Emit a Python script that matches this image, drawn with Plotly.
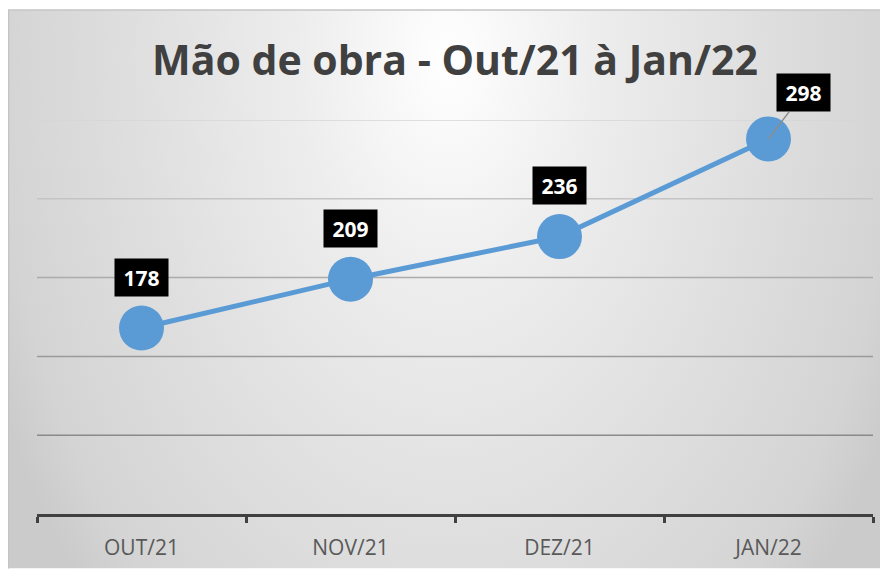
import base64
import plotly.graph_objects as go

categories = ["OUT/21", "NOV/21", "DEZ/21", "JAN/22"]
values = [178, 209, 236, 298]
title_text = "Mão de obra - Out/21 à Jan/22"
y_min, y_max, y_step = 60, 310, 50
grid_colors = ["#d6d6d6", "#c4c4c4", "#ababab", "#9a9a9a", "#8a8a8a"]  # top to bottom

# page body has an 8px margin, so the figure is placed at (8, 8)
W, H = 880, 565
L, R, T, B = 29, 15, 112, 55
pw = W - L - R
ph = H - T - B

def px_x(p):
    return (p - L) / pw

def px_y(p):
    return (H - B - p) / ph

svg = """<svg xmlns='http://www.w3.org/2000/svg' width='880' height='564' viewBox='0 0 880 564' preserveAspectRatio='none'>
<defs><radialGradient id='g' gradientUnits='userSpaceOnUse' cx='0' cy='0' r='1'
 gradientTransform='translate(440 50) scale(500 780)'>
<stop offset='0' stop-color='#ffffff'/><stop offset='0.3' stop-color='#ededed'/>
<stop offset='0.6' stop-color='#e0e0e0'/><stop offset='0.9' stop-color='#d4d4d4'/>
<stop offset='1' stop-color='#cbcbcb'/></radialGradient></defs>
<rect x='0' y='0' width='880' height='564' fill='url(#g)'/></svg>"""
src = "data:image/svg+xml;base64," + base64.b64encode(svg.encode()).decode()

fig = go.Figure()
fig.add_trace(go.Scatter(
    x=categories, y=values, mode="lines+markers",
    line=dict(color="#5B9BD5", width=5),
    marker=dict(size=45, color="#5B9BD5"),
    cliponaxis=False, hoverinfo="skip",
))

annotations = []
for i, (c, v) in enumerate(zip(categories, values)):
    common = dict(x=c, y=v, xref="x", yref="y", text="<b>%d</b>" % v,
                  font=dict(family="Open Sans", size=21, color="white"),
                  bgcolor="black", width=45, height=29, borderpad=4)
    if i == len(values) - 1:
        annotations.append(dict(showarrow=True, ax=35, ay=-46, arrowhead=0,
                                arrowwidth=1.5, arrowcolor="#8c8c8c", standoff=0,
                                **common))
    else:
        annotations.append(dict(showarrow=False, yshift=51, **common))

annotations.append(dict(
    x=0.5, y=px_y(50), xref="paper", yref="paper", text="<b>%s</b>" % title_text,
    showarrow=False, xanchor="center", yanchor="middle",
    font=dict(family="Open Sans", size=41, color="#404040"),
))

shapes = [
    dict(type="line", xref="paper", yref="paper", x0=px_x(0), x1=px_x(880),
         y0=px_y(1), y1=px_y(1), line=dict(color="#c4c4c4", width=1.5)),
    dict(type="line", xref="paper", yref="paper", x0=px_x(0.5), x1=px_x(0.5),
         y0=px_y(1), y1=px_y(565), line=dict(color="#c4c4c4", width=1.5)),
]
gv = y_max
for col in grid_colors:
    shapes.append(dict(type="line", xref="paper", yref="y", x0=0, x1=1, y0=gv, y1=gv,
                       line=dict(color=col, width=1.5), layer="below"))
    gv -= y_step

fig.update_layout(
    width=W, height=H,
    margin=dict(l=L, r=R, t=T, b=B, pad=0),
    paper_bgcolor="white", plot_bgcolor="rgba(0,0,0,0)",
    showlegend=False,
    annotations=annotations,
    images=[dict(source=src, xref="paper", yref="paper",
                 x=px_x(0), y=px_y(1), sizex=px_x(880) - px_x(0),
                 sizey=px_y(1) - px_y(565), sizing="stretch",
                 xanchor="left", yanchor="top", layer="below")],
    shapes=shapes,
    xaxis=dict(
        type="category", range=[-0.5, 3.5], showgrid=False,
        showline=True, linecolor="#404040", linewidth=3,
        ticks="outside", tickson="boundaries", ticklen=6, tickwidth=3,
        tickcolor="#404040",
        tickfont=dict(family="Open Sans", size=21, color="#595959"),
        ticklabelstandoff=13,
    ),
    yaxis=dict(
        range=[y_min, y_max], tick0=y_min, dtick=y_step, showticklabels=False,
        showgrid=False, zeroline=False, showline=False,
    ),
)

fig.write_html("out.html")
